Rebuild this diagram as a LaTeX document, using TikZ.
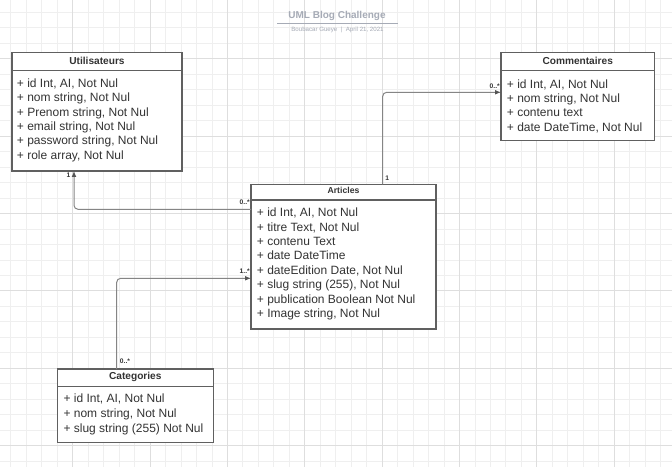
\documentclass[tikz,border=0pt]{standalone}
\usepackage{fontspec}
\setmainfont{Liberation Sans}
\usetikzlibrary{calc,arrows.meta}

\definecolor{gridminor}{HTML}{EFEFEF}
\definecolor{gridmajor}{HTML}{DEDEDE}
\definecolor{boxline}{HTML}{606060}
\definecolor{attrtext}{HTML}{333333}
\definecolor{linkline}{HTML}{858585}
\definecolor{tipcolor}{HTML}{555555}
\definecolor{titlegray}{HTML}{A6ABB6}

\begin{document}
\begin{tikzpicture}[x=0.75pt,y=-0.75pt,
  classbox/.style={draw=boxline, fill=white, line width=0.9pt, rectangle,
    anchor=north west, inner sep=0pt, outer sep=0pt},
  divider/.style={draw=boxline, line width=0.9pt},
  classtitle/.style={font=\fontsize{7.6pt}{9pt}\selectfont\bfseries,
    text=attrtext, inner sep=0pt, anchor=base},
  attr/.style={font=\fontsize{9pt}{10.8pt}\selectfont, text=attrtext,
    anchor=base west, inner sep=0pt},
  assoc/.style={draw=linkline, line width=0.75pt, rounded corners=3pt,
    -{Latex[length=4.5pt,width=3.6pt,color=tipcolor]}},
  mult/.style={font=\fontsize{5pt}{6pt}\selectfont\bfseries, text=attrtext,
    inner sep=0pt}]

\useasboundingbox (0,0) rectangle (672,467);
\fill[white] (0,0) rectangle (672,467);

% background grid
\foreach \i in {0,...,42}
  \draw[gridminor, line width=0.75pt] ({10.92+15.47*\i},0) -- ({10.92+15.47*\i},467);
\foreach \j in {0,...,29}
  \draw[gridminor, line width=0.75pt] (0,{12.5+15.47*\j}) -- (672,{12.5+15.47*\j});
\foreach \i in {0,...,7}
  \draw[gridmajor, line width=0.75pt] ({72.8+77.35*\i},0) -- ({72.8+77.35*\i},467);
\foreach \j in {0,...,5}
  \draw[gridmajor, line width=0.75pt] (0,{58.9+77.35*\j}) -- (672,{58.9+77.35*\j});

% heading
\node[font=\fontsize{7.5pt}{9pt}\selectfont\bfseries, text=titlegray, inner sep=0pt]
  (title) at (337,15.7) {UML Blog Challenge};
\draw[titlegray, line width=0.75pt] (277.3,24) -- (397.7,24);
\node[font=\fontsize{4.6pt}{5pt}\selectfont, text=titlegray, inner sep=0pt]
  (author) at (337.5,30) {Boubacar Gueye \ | \ April 21, 2021};

% Utilisateurs
\node[classbox, minimum width=127.5pt, minimum height=89pt] (util) at (12,52.3) {};
\draw[divider] ($(util.north west)+(0,18.4)$) -- ($(util.north east)+(0,18.4)$);
\node[classtitle] (util-t) at (97,64.3) {Utilisateurs};
\foreach \txt [count=\k from 0] in {
  {+ id Int, AI, Not Nul},
  {+ nom string, Not Nul},
  {+ Prenom string, Not Nul},
  {+ email string, Not Nul},
  {+ password string, Not Nul},
  {+ role array, Not Nul}}
  \node[attr] (util-\k) at (16.7,{87.6+14.34*\k}) {\txt};

% Commentaires
\node[classbox, minimum width=115pt, minimum height=66.3pt] (comm) at (501,52.3) {};
\draw[divider] ($(comm.north west)+(0,18.4)$) -- ($(comm.north east)+(0,18.4)$);
\node[classtitle] (comm-t) at (577.7,64.3) {Commentaires};
\foreach \txt [count=\k from 0] in {
  {+ id Int, AI, Not Nul},
  {+ nom string, Not Nul},
  {+ contenu text},
  {+ date DateTime, Not Nul}}
  \node[attr] (comm-\k) at (506.7,{88.3+14.3*\k}) {\txt};

% Articles
\node[classbox, minimum width=138.75pt, minimum height=108.5pt] (art) at (251,184.3) {};
\draw[divider] ($(art.north west)+(0,15.7)$) -- ($(art.north east)+(0,15.7)$);
\node[classtitle, font=\fontsize{6.5pt}{8pt}\selectfont\bfseries] (art-t) at (343.5,193.8) {Articles};
\foreach \txt [count=\k from 0] in {
  {+ id Int, AI, Not Nul},
  {+ titre Text, Not Nul},
  {+ contenu Text},
  {+ date DateTime},
  {+ dateEdition Date, Not Nul},
  {+ slug string (255), Not Nul},
  {+ publication Boolean Not Nul},
  {+ Image string, Not Nul}}
  \node[attr] (art-\k) at (256.7,{216.6+14.43*\k}) {\txt};

% Categories
\node[classbox, minimum width=117pt, minimum height=55pt] (cat) at (57.3,369) {};
\draw[divider] ($(cat.north west)+(0,17.7)$) -- ($(cat.north east)+(0,17.7)$);
\node[classtitle] (cat-t) at (135.3,379.6) {Categories};
\foreach \txt [count=\k from 0] in {
  {+ id Int, AI, Not Nul},
  {+ nom string, Not Nul},
  {+ slug string (255) Not Nul}}
  \node[attr] (cat-\k) at (63.3,{402.6+14.7*\k}) {\txt};

% associations
\draw[assoc] ($(art.north west)+(0,25)$) -| ($(util.south west)+(62,0)$);
\draw[assoc] ($(art.north west)+(131.7,0)$) |- ($(comm.north west)+(0,40)$);
\draw[assoc] ($(cat.north west)+(59.4,0)$) |- ($(art.north west)+(0,94)$);

% multiplicities
\node[mult] (m-util) at (68.5,175.5) {1};
\node[mult, anchor=east] (m-art-u) at (250,202.7) {0..*};
\node[mult] (m-art-c) at (387.3,178.3) {1};
\node[mult, anchor=east] (m-comm) at (500,86.7) {0..*};
\node[mult] (m-cat) at (125,361.7) {0..*};
\node[mult, anchor=east] (m-art-k) at (250,271) {1..*};

\end{tikzpicture}
\end{document}
